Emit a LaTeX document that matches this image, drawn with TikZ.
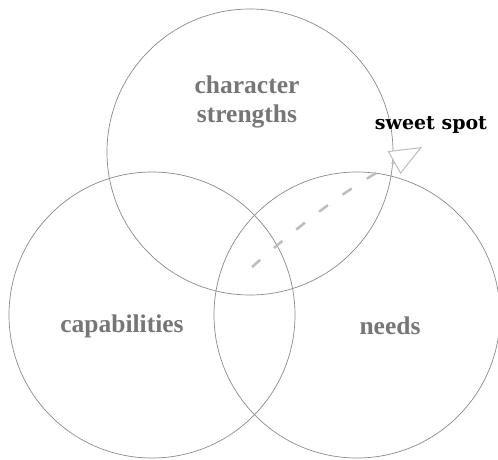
\documentclass[tikz,border=0pt]{standalone}
\usepackage{fontspec}
\setmainfont{DejaVu Serif}
\newfontfamily\labfont{Liberation Serif}
\usetikzlibrary{arrows.meta}
\definecolor{ringc}{HTML}{8A8A8A}
\definecolor{labc}{HTML}{767676}
\definecolor{arrc}{HTML}{BDBDBD}
\begin{document}
\begin{tikzpicture}[x=1pt,y=-1pt,
  ring/.style={draw=ringc, line width=0.7pt, circle, minimum size=286pt, inner sep=0pt},
  lab/.style={text=labc, font=\labfont\bfseries\fontsize{25.5}{29}\selectfont, align=center},
  spotlab/.style={text=black, font=\fontsize{19}{20}\selectfont\bfseries}]
\useasboundingbox (0,0) rectangle (498,460);
\node[ring] (top) at (250,152) {};
\node[ring] (left) at (152,315) {};
\node[ring] (right) at (357,315) {};
\node[lab] (tl) at (247,102) {character\\strengths};
\node[lab] (cl) at (122,326) {capabilities};
\node[lab] (nl) at (390,326) {needs};
\node[spotlab] (sl) at (431,125) {sweet spot};
\coordinate (s) at (252,267);
\coordinate (e) at (422,147);
\draw[draw=arrc, line width=2.5pt, dash pattern=on 11pt off 18pt,
  -{Triangle[open, length=32pt, width=26pt, line width=1pt, color=arrc, fill=white]}]
  (s) to[bend left=6] (e);
\end{tikzpicture}
\end{document}
